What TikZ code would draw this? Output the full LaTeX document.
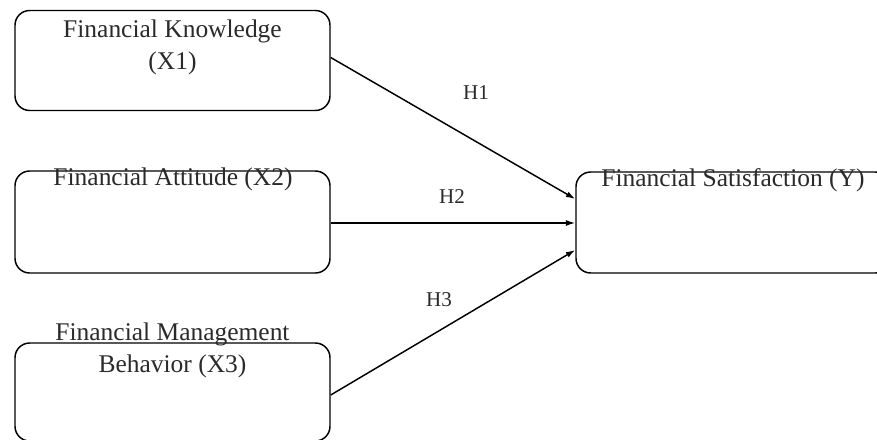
\documentclass[tikz,border=0pt]{standalone}
\usepackage{fontspec}
\setmainfont{Liberation Serif}
\usetikzlibrary{arrows.meta,calc}
\definecolor{txt}{HTML}{2A2A2A}
\tikzset{
  box/.style={draw=black, line width=1.1pt, rounded corners=11pt, inner sep=0pt},
  boxtext/.style={text=txt, font=\fontsize{19.1}{24}\selectfont, inner sep=0pt, align=center},
  hlabel/.style={text=txt, font=\fontsize{15.8}{19}\selectfont, inner sep=0pt},
  conn/.style={line width=1.1pt, -{Latex[length=7pt,width=4.5pt]}}
}
\begin{document}
\begin{tikzpicture}[x=0.75pt,y=-0.75pt]
\useasboundingbox (0,0) rectangle (877,439);
\node[box, minimum width=236.25pt, minimum height=75pt] (b1) at (172.5,60.5) {};
\node[box, minimum width=236.25pt, minimum height=76.5pt] (b2) at (172.5,222) {};
\node[box, minimum width=236.25pt, minimum height=73.5pt] (b3) at (172.5,392) {};
\node[box, minimum width=235.5pt, minimum height=75.75pt] (b4) at (733,222.5) {};
\node[boxtext] (t1) at (172.5,47) {Financial Knowledge\\(X1)};
\node[boxtext] (t2) at (173,179) {Financial Attitude (X2)};
\node[boxtext] (t3) at (172.5,350) {Financial Management\\Behavior (X3)};
\node[boxtext] (t4) at (733,180) {Financial Satisfaction (Y)};
\draw[conn] ($(b1.east)+(0,-3)$) -- ($(b4.west)+(0,-23.5)$) coordinate[pos=0.5] (m1);
\draw[conn] ($(b2.east)+(0,1)$) -- ($(b4.west)+(0,0.5)$);
\draw[conn] ($(b3.east)+(0,3)$) -- ($(b4.west)+(0,27.5)$);
\node[hlabel] (h1) at (476,93) {H1};
\node[hlabel] (h2) at (452,197) {H2};
\node[hlabel] (h3) at (439,300) {H3};
\end{tikzpicture}
\end{document}
